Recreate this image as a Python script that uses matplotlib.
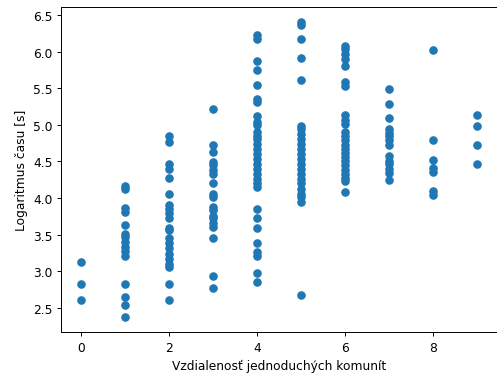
import numpy as np
import matplotlib
matplotlib.use('Agg')
import matplotlib.pyplot as plt

# log(time) grouped by distance between simple communities
vals_0 = [3.12, 2.83, 2.61]
vals_1 = [4.17, 4.13, 3.86, 3.81, 3.63, 3.51, 3.47, 3.40, 3.33, 3.27, 3.21, 2.83, 2.65, 2.54, 2.37]
vals_2 = [4.85, 4.77, 4.46, 4.40, 4.28, 4.05, 3.90, 3.85, 3.79, 3.72, 3.59, 3.56, 3.45, 3.38,
          3.31, 3.24, 3.17, 3.10, 3.05, 2.82, 2.60]
vals_3 = [5.22, 4.72, 4.63, 4.49, 4.45, 4.38, 4.33, 4.21, 4.06, 4.01, 3.88, 3.83, 3.76, 3.72,
          3.66, 3.60, 3.45, 2.94, 2.77]
vals_4 = [6.23, 6.18, 5.87, 5.75, 5.55, 5.36, 5.31, 5.12, 5.04, 5.00, 4.90, 4.85, 4.81, 4.74,
          4.67, 4.60, 4.54, 4.47, 4.40, 4.33, 4.26, 4.20, 4.15, 3.85, 3.72, 3.59, 3.38, 3.26,
          3.21, 2.98, 2.85]
vals_5 = [6.41, 6.37, 6.18, 5.92, 5.62, 4.99, 4.95, 4.88, 4.81, 4.74, 4.67, 4.60, 4.54, 4.47,
          4.40, 4.33, 4.26, 4.20, 4.13, 4.06, 4.01, 3.94, 2.68]
vals_6 = [6.08, 6.04, 5.97, 5.90, 5.81, 5.58, 5.53, 5.13, 5.07, 5.01, 4.90, 4.85, 4.79, 4.73,
          4.67, 4.62, 4.56, 4.50, 4.45, 4.39, 4.33, 4.27, 4.23, 4.08]
vals_7 = [5.49, 5.29, 5.09, 4.94, 4.89, 4.85, 4.79, 4.72, 4.57, 4.51, 4.46, 4.40, 4.34, 4.25]
vals_8 = [6.03, 4.79, 4.52, 4.41, 4.36, 4.09, 4.04]
vals_9 = [5.13, 4.98, 4.73, 4.47]

groups = [vals_0, vals_1, vals_2, vals_3, vals_4, vals_5, vals_6, vals_7, vals_8, vals_9]

x = []
y = []
for d, g in enumerate(groups):
    x += [d] * len(g)
    y += g

fig = plt.figure(figsize=(497 / 88, 381 / 88), dpi=88)
ax = fig.add_axes([61 / 497, 48 / 381, 435.5 / 497, 325 / 381])
ax.scatter(x, y)
ax.set_xlabel('Vzdialenosť jednoduchých komunít')
ax.set_ylabel('Logaritmus času [s]')
fig.savefig('out.png', dpi=88)
